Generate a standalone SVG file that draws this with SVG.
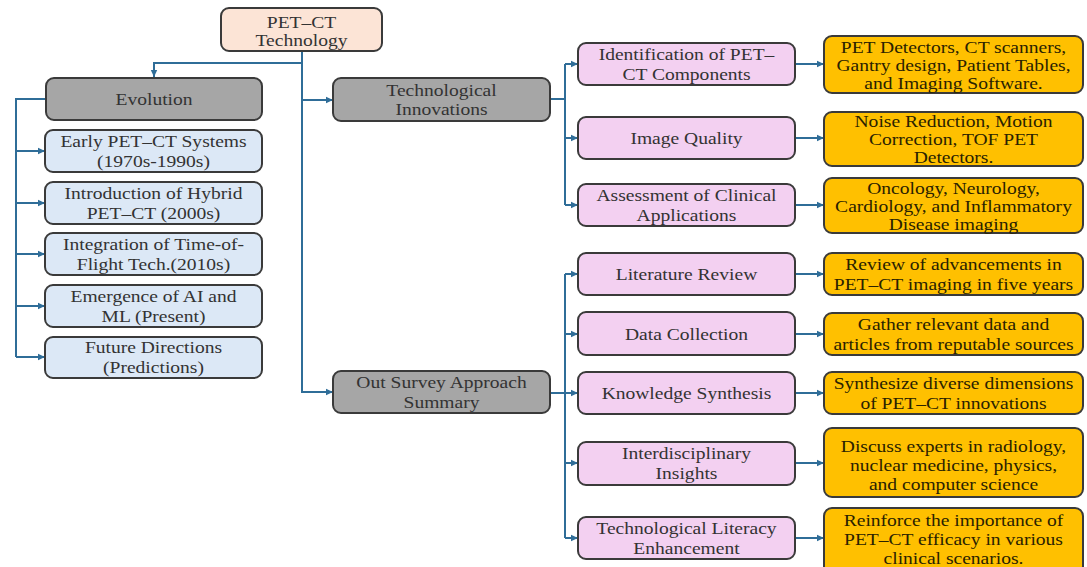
<svg xmlns="http://www.w3.org/2000/svg" width="1087" height="567" viewBox="0 0 1087 567">
<style>
.root,.gray,.blue,.pink,.orange{stroke:#3a3a3a;stroke-width:2}
.root{fill:#fce4d6}
.gray{fill:#a6a6a6}
.blue{fill:#dce8f6}
.pink{fill:#f3d0f1}
.orange{fill:#ffc000}
text{font-family:"Liberation Serif","Times New Roman",serif;font-size:17px;text-anchor:middle;fill:#333}
.o text{fill:#2a2200}
.c{fill:none;stroke:#2f6d98;stroke-width:2}
</style>
<defs>
<marker id="ar" markerUnits="userSpaceOnUse" markerWidth="8" markerHeight="8" refX="7" refY="4" orient="auto"><path d="M0,0.8 L7,4 L0,7.2 Z" fill="#2f6d98"/></marker>
</defs>
<rect width="1087" height="567" fill="#fff"/>
<g id="connectors">
<path class="c" d="M302,51 V392 H333" marker-end="url(#ar)"/>
<path class="c" d="M302,63 H154 V77" marker-end="url(#ar)"/>
<path class="c" d="M302,100 H333" marker-end="url(#ar)"/>
<path class="c" d="M46,99 H16 V357"/>
<path class="c" d="M16,151 H45" marker-end="url(#ar)"/>
<path class="c" d="M16,203 H45" marker-end="url(#ar)"/>
<path class="c" d="M16,254 H45" marker-end="url(#ar)"/>
<path class="c" d="M16,306 H45" marker-end="url(#ar)"/>
<path class="c" d="M16,357 H45" marker-end="url(#ar)"/>
<path class="c" d="M550,99 H565"/>
<path class="c" d="M565,64 V205"/>
<path class="c" d="M565,64 H578" marker-end="url(#ar)"/>
<path class="c" d="M565,138 H578" marker-end="url(#ar)"/>
<path class="c" d="M565,205 H578" marker-end="url(#ar)"/>
<path class="c" d="M550,393 H565"/>
<path class="c" d="M565,274 V538"/>
<path class="c" d="M565,274 H578" marker-end="url(#ar)"/>
<path class="c" d="M565,334 H578" marker-end="url(#ar)"/>
<path class="c" d="M565,393 H578" marker-end="url(#ar)"/>
<path class="c" d="M565,463 H578" marker-end="url(#ar)"/>
<path class="c" d="M565,538 H578" marker-end="url(#ar)"/>
<path class="c" d="M795,64 H824" marker-end="url(#ar)"/>
<path class="c" d="M795,138 H824" marker-end="url(#ar)"/>
<path class="c" d="M795,205 H824" marker-end="url(#ar)"/>
<path class="c" d="M795,274 H824" marker-end="url(#ar)"/>
<path class="c" d="M795,334 H824" marker-end="url(#ar)"/>
<path class="c" d="M795,393 H824" marker-end="url(#ar)"/>
<path class="c" d="M795,463 H824" marker-end="url(#ar)"/>
<path class="c" d="M795,538 H824" marker-end="url(#ar)"/>
</g>
<g id="root"><rect class="root" x="221" y="8" width="161" height="43" rx="8"/>
<g transform="translate(301.5 0) scale(1.15 1)"><text y="28">PET–CT</text><text y="46">Technology</text></g></g>
<g id="evolution"><rect class="gray" x="46" y="78" width="216" height="42" rx="8"/>
<g transform="translate(154 0) scale(1.15 1)"><text y="105">Evolution</text></g></g>
<g id="early"><rect class="blue" x="45" y="130" width="217" height="42" rx="8"/>
<g transform="translate(153.5 0) scale(1.15 1)"><text y="147">Early PET–CT Systems</text><text y="167">(1970s-1990s)</text></g></g>
<g id="hybrid"><rect class="blue" x="45" y="182" width="217" height="42" rx="8"/>
<g transform="translate(153.5 0) scale(1.15 1)"><text y="199">Introduction of Hybrid</text><text y="219">PET–CT (2000s)</text></g></g>
<g id="tof"><rect class="blue" x="45" y="233" width="217" height="42" rx="8"/>
<g transform="translate(153.5 0) scale(1.15 1)"><text y="250">Integration of Time-of-</text><text y="270">Flight Tech.(2010s)</text></g></g>
<g id="ai"><rect class="blue" x="45" y="285" width="217" height="42" rx="8"/>
<g transform="translate(153.5 0) scale(1.15 1)"><text y="302">Emergence of AI and</text><text y="322">ML (Present)</text></g></g>
<g id="future"><rect class="blue" x="45" y="337" width="217" height="41" rx="8"/>
<g transform="translate(153.5 0) scale(1.15 1)"><text y="353">Future Directions</text><text y="373">(Predictions)</text></g></g>
<g id="innovations"><rect class="gray" x="333" y="78" width="217" height="43" rx="8"/>
<g transform="translate(441.5 0) scale(1.15 1)"><text y="96">Technological</text><text y="115">Innovations</text></g></g>
<g id="survey"><rect class="gray" x="333" y="371" width="217" height="42" rx="8"/>
<g transform="translate(441.5 0) scale(1.15 1)"><text y="388">Out Survey Approach</text><text y="408">Summary</text></g></g>
<g id="ident"><rect class="pink" x="578" y="43" width="217" height="42" rx="8"/>
<g transform="translate(686.5 0) scale(1.15 1)"><text y="60">Identification of PET–</text><text y="80">CT Components</text></g></g>
<g id="quality"><rect class="pink" x="578" y="117" width="217" height="42" rx="8"/>
<g transform="translate(686.5 0) scale(1.15 1)"><text y="144">Image Quality</text></g></g>
<g id="clinical"><rect class="pink" x="578" y="184" width="217" height="42" rx="8"/>
<g transform="translate(686.5 0) scale(1.15 1)"><text y="201">Assessment of Clinical</text><text y="221">Applications</text></g></g>
<g id="literature"><rect class="pink" x="578" y="253" width="217" height="42" rx="8"/>
<g transform="translate(686.5 0) scale(1.15 1)"><text y="280">Literature Review</text></g></g>
<g id="data"><rect class="pink" x="578" y="312" width="217" height="43" rx="8"/>
<g transform="translate(686.5 0) scale(1.15 1)"><text y="340">Data Collection</text></g></g>
<g id="knowledge"><rect class="pink" x="578" y="372" width="217" height="42" rx="8"/>
<g transform="translate(686.5 0) scale(1.15 1)"><text y="399">Knowledge Synthesis</text></g></g>
<g id="interdisc"><rect class="pink" x="578" y="442" width="217" height="43" rx="8"/>
<g transform="translate(686.5 0) scale(1.15 1)"><text y="459">Interdisciplinary</text><text y="479">Insights</text></g></g>
<g id="literacy"><rect class="pink" x="578" y="517" width="217" height="42" rx="8"/>
<g transform="translate(686.5 0) scale(1.15 1)"><text y="534">Technological Literacy</text><text y="554">Enhancement</text></g></g>
<g id="o1" class="o"><rect class="orange" x="824" y="36" width="259" height="57" rx="8"/>
<g transform="translate(953.5 0) scale(1.15 1)"><text y="53">PET Detectors, CT scanners,</text><text y="71">Gantry design, Patient Tables,</text><text y="89">and Imaging Software.</text></g></g>
<g id="o2" class="o"><rect class="orange" x="824" y="112" width="259" height="54" rx="8"/>
<g transform="translate(953.5 0) scale(1.15 1)"><text y="127">Noise Reduction, Motion</text><text y="145">Correction, TOF PET</text><text y="163">Detectors.</text></g></g>
<g id="o3" class="o"><rect class="orange" x="824" y="178" width="259" height="55" rx="8"/>
<g transform="translate(953.5 0) scale(1.15 1)"><text y="194">Oncology, Neurology,</text><text y="212">Cardiology, and Inflammatory</text><text y="230">Disease imaging</text></g></g>
<g id="o4" class="o"><rect class="orange" x="824" y="253" width="259" height="42" rx="8"/>
<g transform="translate(953.5 0) scale(1.15 1)"><text y="270">Review of advancements in</text><text y="290">PET–CT imaging in five years</text></g></g>
<g id="o5" class="o"><rect class="orange" x="824" y="313" width="259" height="42" rx="8"/>
<g transform="translate(953.5 0) scale(1.15 1)"><text y="330">Gather relevant data and</text><text y="350">articles from reputable sources</text></g></g>
<g id="o6" class="o"><rect class="orange" x="824" y="372" width="259" height="42" rx="8"/>
<g transform="translate(953.5 0) scale(1.15 1)"><text y="389">Synthesize diverse dimensions</text><text y="409">of PET–CT innovations</text></g></g>
<g id="o7" class="o"><rect class="orange" x="824" y="428" width="259" height="69" rx="8"/>
<g transform="translate(953.5 0) scale(1.15 1)"><text y="452">Discuss experts in radiology,</text><text y="471">nuclear medicine, physics,</text><text y="490">and computer science</text></g></g>
<g id="o8" class="o"><rect class="orange" x="824" y="508" width="259" height="66" rx="8"/>
<g transform="translate(953.5 0) scale(1.15 1)"><text y="526">Reinforce the importance of</text><text y="545">PET–CT efficacy in various</text><text y="564">clinical scenarios.</text></g></g>
</svg>
